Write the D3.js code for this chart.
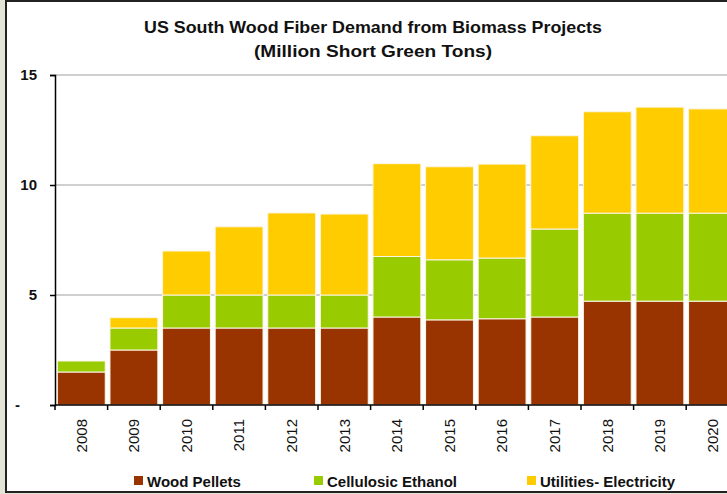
<!DOCTYPE html>
<html>
<head>
<meta charset="utf-8">
<script src="https://cdn.jsdelivr.net/npm/d3@7"></script>
<style>
  body { margin: 0; background: #e4e4d4; }
  svg { display: block; font-family: "Liberation Sans", Arial, sans-serif; }
</style>
</head>
<body>
<div id="chart"></div>
<script>
var years = ["2008","2009","2010","2011","2012","2013","2014","2015","2016","2017","2018","2019","2020"];
var woodPellets = [1.5, 2.5, 3.5, 3.5, 3.5, 3.5, 4.0, 3.87, 3.92, 4.0, 4.72, 4.72, 4.72];
var cellulosicEthanol = [0.5, 1.0, 1.5, 1.5, 1.5, 1.5, 2.75, 2.73, 2.76, 4.0, 4.0, 4.0, 4.0];
var utilitiesElectricity = [0, 0.47, 2.0, 3.1, 3.73, 3.68, 4.22, 4.23, 4.27, 4.24, 4.61, 4.82, 4.74];
var seriesNames = ["Wood Pellets", "Cellulosic Ethanol", "Utilities- Electricity"];
var seriesColors = ["#993300", "#99cc00", "#ffcc00"];
var yTicks = [0, 5, 10, 15];
var titleLines = ["US South Wood Fiber Demand from Biomass Projects", "(Million Short Green Tons)"];

var fontFamily = "'Liberation Sans', Arial, sans-serif";

drawChart();

function drawChart(){
	var width = 727,
		height = 494;

	var svg = d3.select("#chart")
		.append("svg")
		.attr("width", width)
		.attr("height", height);

	// frame
	svg.append("rect")
		.attr("x", 6).attr("y", 1)
		.attr("width", 740).attr("height", 491)
		.attr("fill", "#fff")
		.attr("stroke", "#222")
		.attr("stroke-width", 2);

	// title (two centred lines)
	var titleWidths = [458, 238];
	svg.append("g").selectAll("text")
		.data(titleLines)
		.enter()
		.append("text")
		.attr("x", 373)
		.attr("y", function(d, i){ return 33 + i * 23.5; })
		.attr("text-anchor", "middle")
		.attr("font-size", 17)
		.attr("font-weight", "bold")
		.attr("fill", "#111")
		.attr("textLength", function(d, i){ return titleWidths[i]; })
		.attr("lengthAdjust", "spacingAndGlyphs")
		.text(function(d){ return d; });

	var x = d3.scaleBand()
		.domain(years)
		.range([55, 55 + 13 * 52.6])
		.paddingInner(0.09)
		.paddingOuter(0.045);

	var y = d3.scaleLinear()
		.domain([0, 15])
		.range([405, 75]);

	// gridlines
	svg.append("g").selectAll("line")
		.data(yTicks.filter(function(d){ return d > 0; }))
		.enter()
		.append("line")
		.attr("x1", 55).attr("x2", width)
		.attr("y1", function(d){ return y(d); })
		.attr("y2", function(d){ return y(d); })
		.attr("stroke", "#a0a0a0")
		.attr("stroke-width", 1);

	// stacked bars
	var rows = years.map(function(yr, i){
		return { year: yr, wood: woodPellets[i], eth: cellulosicEthanol[i], util: utilitiesElectricity[i] };
	});
	var stack = d3.stack().keys(["wood", "eth", "util"]);
	var layers = stack(rows);

	svg.append("g").selectAll("g")
		.data(layers)
		.enter()
		.append("g")
		.attr("fill", function(d, i){ return seriesColors[i]; })
		.selectAll("rect")
		.data(function(d){ return d.filter(function(p){ return p[1] - p[0] > 0; }); })
		.enter()
		.append("rect")
		.attr("x", function(d){ return x(d.data.year); })
		.attr("width", x.bandwidth())
		.attr("y", function(d){ return y(d[1]); })
		.attr("height", function(d){ return y(d[0]) - y(d[1]); })
		.attr("stroke", "#fbf6e6")
		.attr("stroke-width", 1);

	// y axis
	var yAxis = svg.append("g")
		.attr("transform", "translate(55,0)")
		.call(d3.axisLeft(y).tickValues(yTicks).tickSize(5).tickPadding(13)
			.tickFormat(function(d){ return d === 0 ? "-" : d; }));
	yAxis.select(".domain").attr("stroke", "#000").attr("stroke-width", 1.5);
	yAxis.selectAll(".tick line").attr("stroke", "#000").attr("stroke-width", 1.5);
	yAxis.selectAll("text")
		.attr("font-size", 15)
		.attr("font-weight", "bold")
		.attr("font-family", fontFamily)
		.attr("fill", "#111");
	yAxis.selectAll(".tick").filter(function(d){ return d === 0; })
		.select("text").attr("x", -35);

	// x axis
	var xAxis = svg.append("g")
		.attr("transform", "translate(0,405)")
		.call(d3.axisBottom(x).tickSize(0).tickPadding(0));
	xAxis.select(".domain").remove();
	xAxis.selectAll("text")
		.attr("font-size", 15)
		.attr("font-family", fontFamily)
		.attr("fill", "#111")
		.attr("transform", "rotate(-90)")
		.attr("text-anchor", "end")
		.attr("x", -14)
		.attr("y", 0)
		.attr("dy", "0.35em");

	svg.append("line")
		.attr("x1", 55).attr("x2", width)
		.attr("y1", 405).attr("y2", 405)
		.attr("stroke", "#000")
		.attr("stroke-width", 1.5);

	var bounds = d3.range(years.length + 1).map(function(i){ return 55 + i * x.step(); });
	svg.append("g").selectAll("line")
		.data(bounds)
		.enter()
		.append("line")
		.attr("x1", function(d){ return d; })
		.attr("x2", function(d){ return d; })
		.attr("y1", 405).attr("y2", 410)
		.attr("stroke", "#000")
		.attr("stroke-width", 1.5);

	// legend
	var legendX = [134, 314, 527];
	var legend = svg.append("g").selectAll("g")
		.data(seriesNames)
		.enter()
		.append("g")
		.attr("transform", function(d, i){ return "translate(" + legendX[i] + ",476)"; });
	legend.append("rect")
		.attr("width", 9).attr("height", 9)
		.attr("fill", function(d, i){ return seriesColors[i]; });
	legend.append("text")
		.attr("x", 13)
		.attr("y", 11)
		.attr("font-size", 15)
		.attr("font-weight", "bold")
		.attr("fill", "#111")
		.text(function(d){ return d; });
}
</script>
</body>
</html>
